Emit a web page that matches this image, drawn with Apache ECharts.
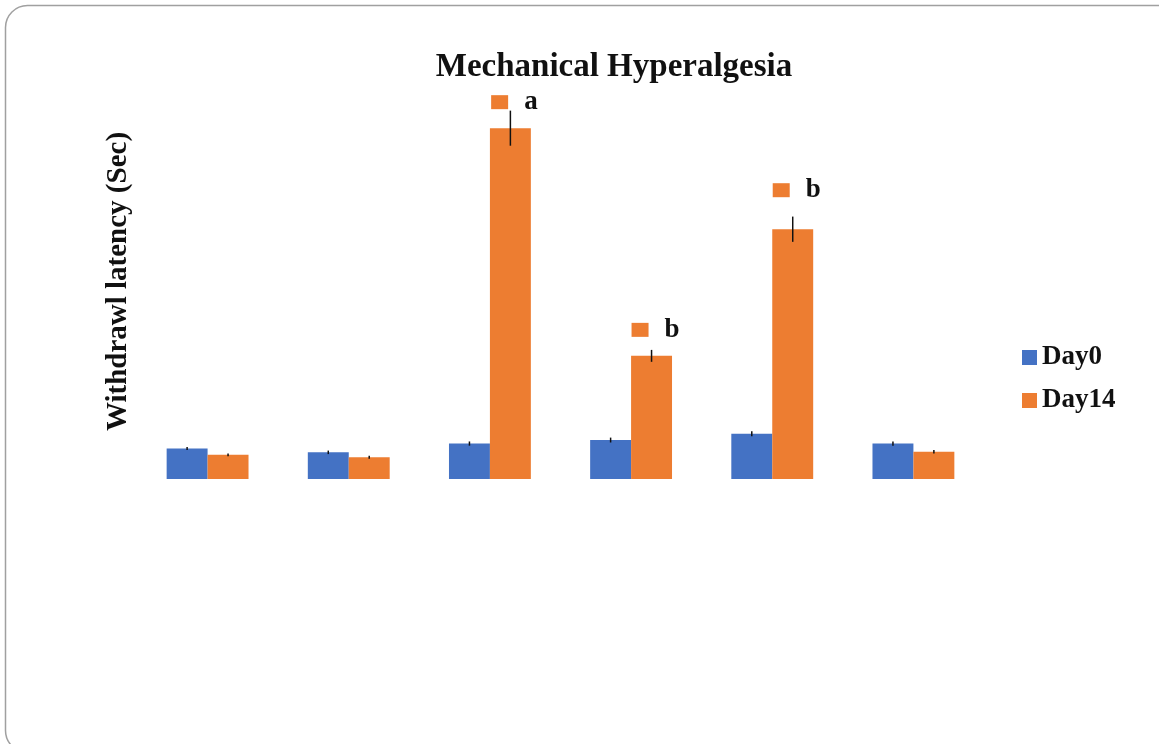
<!DOCTYPE html>
<html>
<head>
<meta charset="utf-8">
<script src="https://cdn.jsdelivr.net/npm/echarts@6/dist/echarts.min.js"></script>
<style>
html,body{margin:0;padding:0;background:#fff;}
#c{width:1159px;height:744px;}
</style>
</head>
<body>
<div id="c"></div>
<script>
// ---- data ----
const categories = ['Group 1', 'Group 2', 'Group 3', 'Group 4', 'Group 5', 'Group 6'];
const day0 = [0.87, 0.76, 1.01, 1.11, 1.29, 1.01];
const day14 = [0.69, 0.62, 10.0, 3.51, 7.12, 0.78];
const day0Err = [0.04, 0.05, 0.06, 0.07, 0.07, 0.06];
const day14Err = [0.04, 0.04, 0.50, 0.17, 0.36, 0.05];
const sigLetters = ['', '', 'a', 'b', 'b', ''];
const seriesNames = ['Day0', 'Day14'];

// ---- styling ----
const BLUE = '#4472C4', ORANGE = '#ED7D31';
const FONT = '"Liberation Serif", "Times New Roman", serif';
const labelDistance = [14, 14, 14, 14, 27, 14];

const chart = echarts.init(document.getElementById('c'));

function errSeries(name, vals, errs, side) {
  return {
    type: 'custom',
    name: name + ' err',
    silent: true,
    z: 5,
    data: vals.map((v, i) => [i, v, errs[i]]),
    renderItem: function (params, api) {
      const i = api.value(0), v = api.value(1), e = api.value(2);
      const band = api.size([1, 0])[0];
      const dx = side * band * 0.145;
      const top = api.coord([i, v + e]);
      const bot = api.coord([i, v - e]);
      return {
        type: 'line',
        shape: { x1: top[0] + dx, y1: top[1], x2: bot[0] + dx, y2: bot[1] },
        style: { stroke: '#111', lineWidth: 1.5 }
      };
    }
  };
}

const option = {
  animation: false,
  backgroundColor: '#fff',
  title: {
    text: 'Mechanical Hyperalgesia',
    left: 609, top: 46, textAlign: 'center',
    textStyle: { fontFamily: FONT, fontWeight: 'bold', fontSize: 33, color: '#111' }
  },
  legend: {
    orient: 'vertical',
    left: 1017, top: 339,
    itemWidth: 15, itemHeight: 15, itemGap: 16,
    icon: 'rect',
    data: seriesNames,
    textStyle: { fontFamily: FONT, fontWeight: 'bold', fontSize: 27, color: '#111' }
  },
  grid: { left: 137, right: 175, top: 58, bottom: 265 },
  xAxis: {
    type: 'category',
    data: categories,
    axisLine: { show: false }, axisTick: { show: false }, axisLabel: { show: false }
  },
  yAxis: {
    type: 'value', min: 0, max: 12,
    name: 'Withdrawl latency (Sec)',
    nameLocation: 'middle', nameGap: 4,
    nameTextStyle: {
      fontFamily: FONT, fontWeight: 'bold', fontSize: 29, color: '#111',
      padding: [0, 26, 0, 0]
    },
    axisLine: { show: false }, axisTick: { show: false }, axisLabel: { show: false },
    splitLine: { show: false }
  },
  graphic: [{
    type: 'rect', silent: true, z: -10,
    shape: { x: 5.5, y: 5.5, width: 1200, height: 747, r: 22 },
    style: { fill: 'none', stroke: '#a0a0a0', lineWidth: 1.5 }
  }],
  series: [
    {
      name: seriesNames[0], type: 'bar', data: day0,
      barGap: '0%', barCategoryGap: '42%',
      itemStyle: { color: BLUE }
    },
    {
      name: seriesNames[1], type: 'bar',
      barGap: '0%', barCategoryGap: '42%',
      itemStyle: { color: ORANGE },
      data: day14.map((v, i) => sigLetters[i] ? {
        value: v,
        label: {
          show: true, position: 'top', distance: labelDistance[i], offset: [4, 0],
          formatter: '{sq|}{gap|}{t|' + sigLetters[i] + '}',
          rich: {
            sq: { backgroundColor: ORANGE, width: 17, height: 14 },
            gap: { width: 16 },
            t: { fontFamily: FONT, fontWeight: 'bold', fontSize: 27, color: '#111', lineHeight: 24 }
          }
        }
      } : v)
    },
    errSeries(seriesNames[0], day0, day0Err, -1),
    errSeries(seriesNames[1], day14, day14Err, 1)
  ]
};
chart.setOption(option);
</script>
</body>
</html>
